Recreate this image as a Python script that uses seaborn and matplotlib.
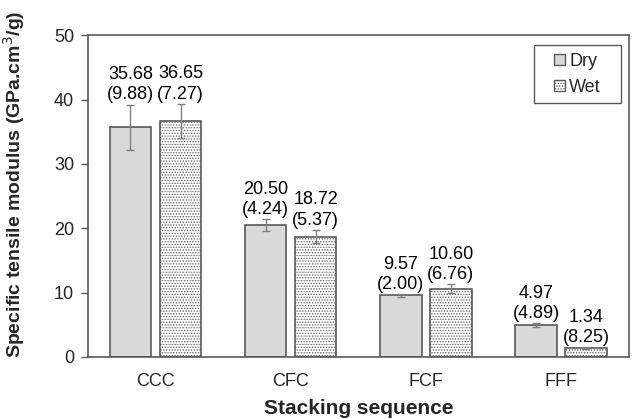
import matplotlib
matplotlib.use("Agg")
import matplotlib.pyplot as plt
import seaborn as sns
import pandas as pd
import numpy as np
from matplotlib.patches import Patch, Rectangle

# data
sequences = ["CCC", "CFC", "FCF", "FFF"]
dry_mean = [35.68, 20.50, 9.57, 4.97]
wet_mean = [36.65, 18.72, 10.60, 1.34]
dry_cv = [9.88, 4.24, 2.00, 4.89]
wet_cv = [7.27, 5.37, 6.76, 8.25]
dry_err = [3.52, 0.87, 0.19, 0.24]
wet_err = [2.66, 1.01, 0.72, 0.11]

df = pd.DataFrame({
    "seq": sequences * 2,
    "cond": ["Dry"] * 4 + ["Wet"] * 4,
    "val": dry_mean + wet_mean,
})

sns.set_style("white")
plt.rcParams["font.family"] = ["Liberation Sans", "DejaVu Sans"]
plt.rcParams["hatch.linewidth"] = 0.6

edge = "#595959"
fig, ax = plt.subplots(figsize=(6.37, 4.19), dpi=100)
fig.subplots_adjust(left=0.138, right=0.987, bottom=0.148, top=0.916)

sns.barplot(data=df, x="seq", y="val", hue="cond", order=sequences,
            hue_order=["Dry", "Wet"], palette=["#d9d9d9", "white"],
            errorbar=None, width=0.74, gap=0.17, edgecolor=edge,
            linewidth=1.2, legend=False, ax=ax)

bars = ax.patches
dry_bars = bars[:4]
wet_bars = bars[4:8]
for b in wet_bars:
    b.set_hatch("......")

# error bars and labels
for group, means, errs, cvs in [(dry_bars, dry_mean, dry_err, dry_cv),
                                (wet_bars, wet_mean, wet_err, wet_cv)]:
    for b, m, e, c in zip(group, means, errs, cvs):
        xc = b.get_x() + b.get_width() / 2
        ax.errorbar(xc, m, yerr=e, fmt="none", ecolor="#7f7f7f",
                    elinewidth=1, capsize=3, capthick=1)
        ax.text(xc, m + e + 0.2, f"{m:.2f}\n({c:.2f})", ha="center",
                va="bottom", fontsize=13, linespacing=1.25, color="black")

ax.set_ylim(0, 50)
ax.set_yticks(range(0, 51, 10))
ax.set_xlim(-0.5, 3.5)
ax.set_xlabel("Stacking sequence", fontsize=15, fontweight="bold")
ax.set_ylabel("Specific tensile modulus (GPa.cm$^3$/g)", fontsize=14,
              fontweight="bold")
ax.xaxis.set_label_coords(0.5, -0.132)
ax.yaxis.set_label_coords(-0.112, 0.537)
ax.tick_params(axis="y", which="major", left=True, length=5, width=1,
               color=edge, labelsize=13, pad=5)
ax.tick_params(axis="x", bottom=False, labelsize=13, pad=8)
for s in ax.spines.values():
    s.set_color(edge)
    s.set_linewidth(1.2)

# legend with a wider frame drawn separately
handles = [Patch(facecolor="#d9d9d9", edgecolor=edge, label="Dry"),
           Patch(facecolor="white", edgecolor=edge, hatch="......", label="Wet")]
leg = ax.legend(handles=handles, loc="center", fontsize=13, frameon=False,
                handlelength=0.6, handleheight=0.6, handletextpad=0.25,
                labelspacing=0.5, borderpad=0, borderaxespad=0,
                bbox_to_anchor=(0.905, 0.879))
ax.add_patch(Rectangle((0.824, 0.789), 0.161, 0.18, transform=ax.transAxes,
                       facecolor="none", edgecolor=edge, linewidth=1.0,
                       zorder=5))

fig.savefig("out.png", dpi=100)
